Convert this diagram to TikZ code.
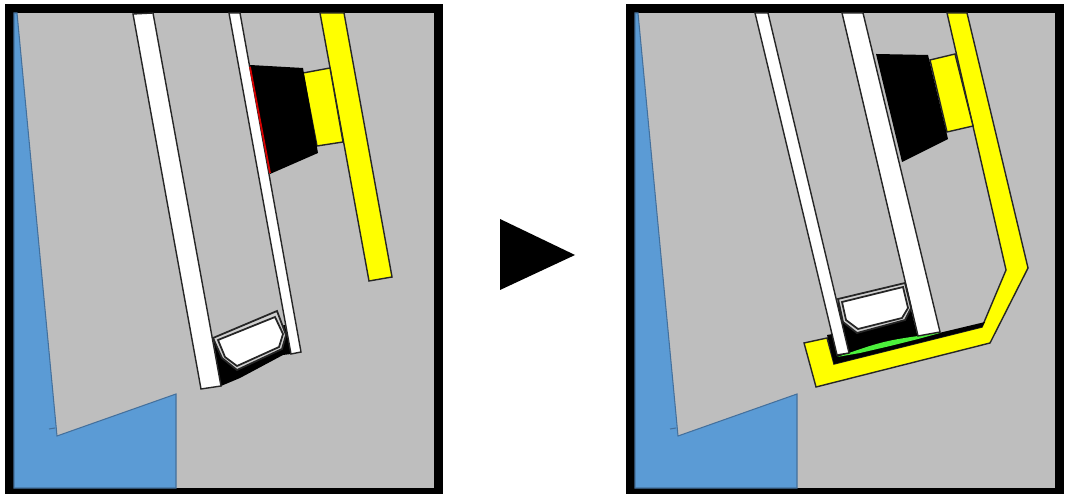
\documentclass[tikz,border=0pt]{standalone}
\usepackage{tikz}
\definecolor{wallgray}{HTML}{BEBEBE}
\definecolor{soilblue}{HTML}{5B9BD5}
\definecolor{edgeblue}{HTML}{44709C}
\definecolor{railyellow}{HTML}{FFFF00}
\definecolor{padgreen}{HTML}{4CF03C}
\definecolor{ringgray}{HTML}{D0D0D0}
\begin{document}
\begin{tikzpicture}[x=0.01cm, y=-0.01cm, line join=miter,
  frame/.style={fill=black},
  wall/.style={fill=wallgray},
  soil/.style={fill=soilblue, draw=edgeblue, line width=0.3pt},
  bar/.style={fill=white, draw=black!85, line width=0.4pt},
  rail/.style={fill=railyellow, draw=black!85, line width=0.4pt},
  block/.style={fill=black},
  ring/.style={fill=ringgray, draw=black!85, line width=0.5pt},
  core/.style={fill=white, draw=black!85, line width=0.5pt}]
\useasboundingbox[fill=white] (0,0) rectangle (1065,495);
% panels
\foreach \dx in {0,621} {
  \begin{scope}[xshift=\dx*0.01cm]
    \fill[frame] (5,4) rectangle (443,494);
    \fill[wall] (14,13) rectangle (434,488);
    \draw[soil] (14,13) -- (17,13) -- (57,436) -- (176,394) -- (176,488) -- (14,488) -- cycle;
    \draw[edgeblue, line width=0.3pt] (49,429) -- (55,428);
  \end{scope}
}
% left panel
\fill[block] (213,338) -- (221,386) -- (240,378) -- (283,355) -- (291,354) -- (285,325) -- cycle;
\draw[rail] (320,13) -- (344,13) -- (392,277) -- (369,281) -- cycle;
\draw[rail] (303,73) -- (330,68) -- (343,142) -- (317,146) -- cycle;
\fill[block] (250,65) -- (303,68) -- (318,153) -- (270,174) -- cycle;
\draw[bar] (133,14) -- (153,13) -- (221,386) -- (201,389) -- cycle;
\draw[bar] (229,13) -- (240,13) -- (301,352) -- (291,354) -- cycle;
\draw[red!85!black, line width=0.5pt] (250,67) -- (270,173);
\draw[ring] (213,338) -- (277,311) -- (286,335) -- (282,349) -- (237,370) -- (222,358) -- cycle;
\draw[core] (218,340) -- (275,317) -- (283,334) -- (279,347) -- (237,366) -- (225,357) -- cycle;
% right panel
\draw[rail] (947,13) -- (967,13) -- (1028,268) -- (990,343) -- (816,387) -- (804,343) -- (827,338) -- (834,364) -- (982,327) -- (1006,270) -- cycle;
\fill[block] (827,335) -- (834,364) -- (982,327) -- (985,322) -- (918,338) -- (905,285) -- (838,299) -- (838,333) -- cycle;
\fill[padgreen] (837,357) -- (849,353) .. controls (880,342) and (890,340) .. (918,336) -- (940,332) -- (940,333) -- (918,339) -- (890,346) -- (860,353) -- cycle;
\draw[rail] (930,60) -- (955,54) -- (973,126) -- (947,132) -- cycle;
\fill[block] (876,54) -- (928,55) -- (948,139) -- (902,162) -- cycle;
\draw[bar] (755,13) -- (768,13) -- (849,353) -- (837,355) -- cycle;
\draw[bar] (842,13) -- (863,13) -- (940,332) -- (918,336) -- cycle;
\draw[ring] (838,299) -- (905,283) -- (911,308) -- (905,320) -- (857,333) -- (843,322) -- cycle;
\draw[core] (842,302) -- (903,287) -- (908,308) -- (902,318) -- (858,329) -- (846,320) -- cycle;
% arrow between panels
\fill[block] (500,219) -- (575,255) -- (500,290) -- cycle;
\end{tikzpicture}
\end{document}
